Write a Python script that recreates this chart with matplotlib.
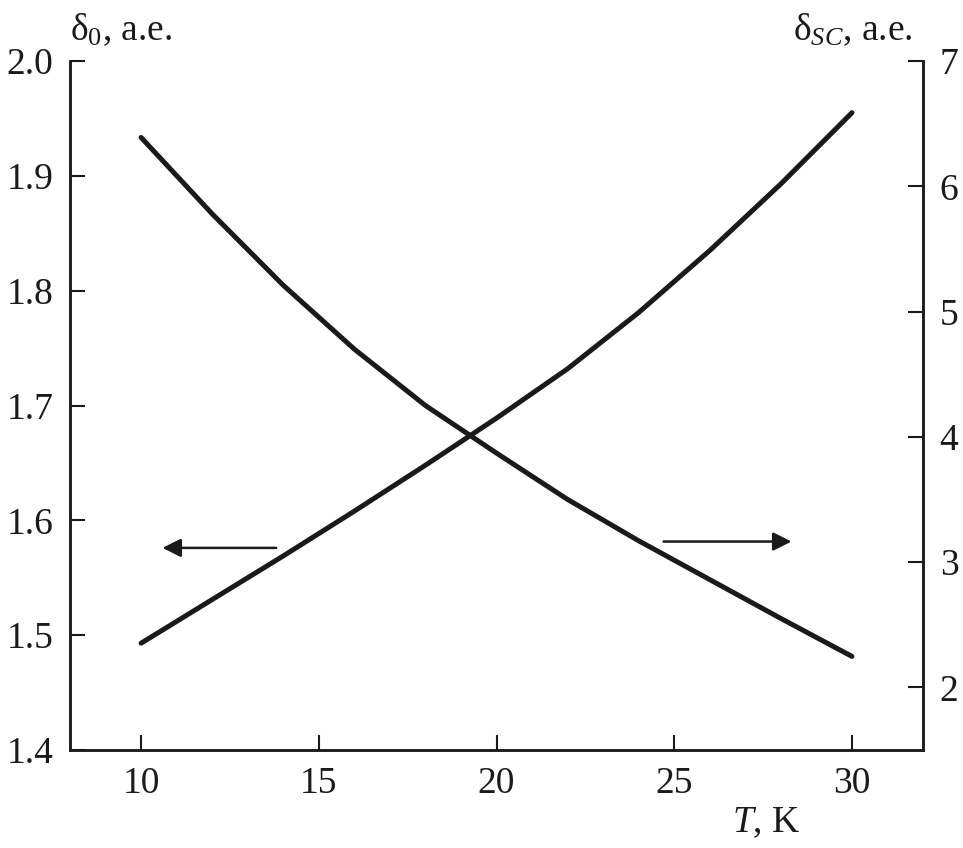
import numpy as np
import matplotlib
matplotlib.use("Agg")
import matplotlib.pyplot as plt

# Fonts: Times-like serif everywhere
plt.rcParams['font.family'] = ['Liberation Serif', 'DejaVu Serif']
plt.rcParams['mathtext.fontset'] = 'custom'
plt.rcParams['mathtext.rm'] = 'Liberation Serif'
plt.rcParams['mathtext.it'] = 'Liberation Serif:italic'

# Data
T = [10, 12, 14, 16, 18, 20, 22, 24, 26, 28, 30]
delta0 = [1.493, 1.531, 1.569, 1.608, 1.648, 1.689, 1.732, 1.781, 1.835, 1.893, 1.955]
delta_sc = [6.39, 5.78, 5.21, 4.70, 4.25, 3.87, 3.50, 3.17, 2.86, 2.55, 2.247]

x_ticks = [10, 15, 20, 25, 30]
left_ticks = [1.4, 1.5, 1.6, 1.7, 1.8, 1.9, 2.0]
right_ticks = [2, 3, 4, 5, 6, 7]

fs = 27
ink = '#1a1a1a'

fig = plt.figure(figsize=(9.63, 8.48), dpi=100)
ax = fig.add_axes([0.0727, 0.1156, 0.8858, 0.8124])
ax2 = ax.twinx()

ax.plot(T, delta0, color=ink, lw=3.6, solid_capstyle='round', solid_joinstyle='round')
ax2.plot(T, delta_sc, color=ink, lw=3.6, solid_capstyle='round', solid_joinstyle='round')

ax.set_xlim(8, 32)
ax.set_ylim(1.4, 2.0)
ax2.set_ylim(1.5, 7)

ax.set_xticks(x_ticks)
ax.set_yticks(left_ticks)
ax.set_yticklabels([f"{v:.1f}" for v in left_ticks])
ax2.set_yticks(right_ticks)

for a in (ax, ax2):
    a.spines['top'].set_visible(False)
    for s in a.spines.values():
        s.set_linewidth(1.8)
        s.set_color(ink)
    a.tick_params(direction='in', length=11, width=1.5, labelsize=fs,
                  colors=ink, pad=12)

# arrows showing which axis each curve belongs to
ax.annotate('', xy=(10.6, 1.576), xytext=(13.8, 1.576),
            arrowprops=dict(arrowstyle='-|>', color=ink, lw=1.8,
                            mutation_scale=28, shrinkA=0, shrinkB=0))
ax2.annotate('', xy=(28.3, 3.164), xytext=(24.7, 3.164),
             arrowprops=dict(arrowstyle='-|>', color=ink, lw=1.8,
                             mutation_scale=28, shrinkA=0, shrinkB=0))

# axis titles
fig.text(70 / 963, 1 - 40 / 848, r'$\mathrm{\delta}_0$, a.e.', fontsize=fs,
         ha='left', va='baseline', color=ink)
fig.text(913 / 963, 1 - 40 / 848, r'$\mathrm{\delta}_{SC}$, a.e.', fontsize=fs,
         ha='right', va='baseline', color=ink)
fig.text(800 / 963, 1 - 832 / 848, r'$T$, K', fontsize=fs,
         ha='right', va='baseline', color=ink)

fig.savefig('out.png', dpi=100, facecolor='white')
